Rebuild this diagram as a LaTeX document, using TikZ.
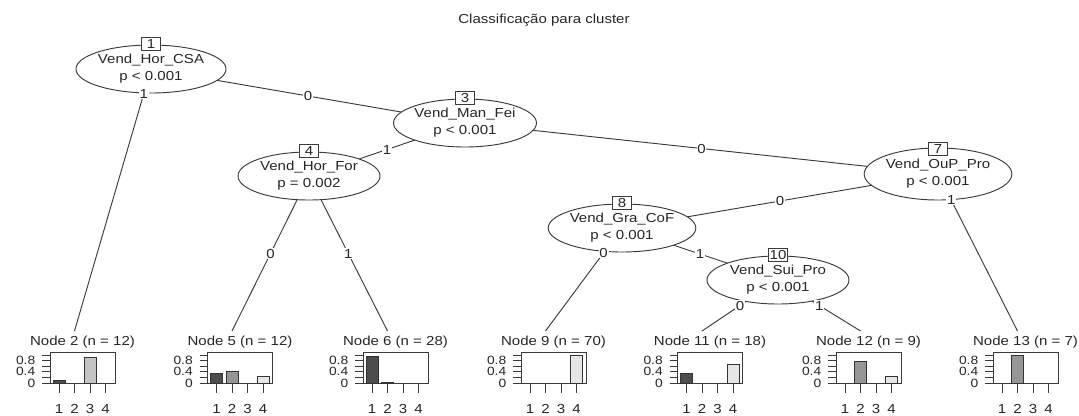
\documentclass[tikz,border=0pt]{standalone}
\usepackage{fontspec}
\setmainfont{Liberation Sans}[FakeStretch=1.15]
\usetikzlibrary{calc,backgrounds,shapes.geometric}
\definecolor{lineclr}{HTML}{3A3A3A}
\definecolor{cA}{HTML}{4D4D4D}
\definecolor{cB}{HTML}{969696}
\definecolor{cC}{HTML}{C3C3C3}
\definecolor{cD}{HTML}{E6E6E6}
\tikzset{
  x=0.75pt, y=-0.75pt,
  txt/.style={font=\fontsize{9.8}{12.75}\selectfont, text=black!85},
  split/.style={ellipse, draw=lineclr, fill=white, line width=0.7pt,
    minimum width=106.5pt, minimum height=36pt, inner sep=0pt,
    align=center, txt},
  idbox/.style={draw=lineclr, fill=white, line width=0.7pt, inner sep=1.2pt,
    minimum width=14pt, minimum height=10pt, txt},
  edge/.style={draw=lineclr, line width=0.7pt},
  elab/.style={fill=white, inner sep=0.6pt, txt},
  ttitle/.style={inner sep=0pt, txt},
  axlab/.style={inner sep=0pt, font=\fontsize{9}{9}\selectfont, text=black!85},
  panel/.style={draw=lineclr, line width=0.7pt},
  bar/.style={draw=black!80, line width=0.7pt},
}
% terminal node: number, size, centre x, class proportions 1..4
\newcommand{\termpanel}[7]{%
  \coordinate (t#1) at (#3-8,331);
  \node[ttitle] (lab#1) at (#3,342) {Node #1 (n = #2)};
  \draw[panel] (#3-32.5,352) rectangle (#3+32.5,383);
  \foreach \p/\c [count=\i] in {#4/cA,#5/cB,#6/cC,#7/cD}{%
    \pgfmathsetmacro{\bx}{#3-23.5+15.5*(\i-1)}
    \ifdim \p pt>0pt
      \draw[bar, fill=\c] (\bx-6,383) rectangle (\bx+6,{383-28*\p});
    \fi
    \draw[panel] (\bx,383) -- (\bx,393);
    \node[axlab, font=\fontsize{9.8}{10}\selectfont] at (\bx,409) {\i};
  }
  \foreach \k in {0,...,5}{\draw[panel] (#3-40.5,{383-5.6*\k}) -- (#3-32.5,{383-5.6*\k});}
  \node[axlab, anchor=east] at (#3-47,383) {0};
  \node[axlab, anchor=east] at (#3-47,371.8) {0.4};
  \node[axlab, anchor=east] at (#3-47,360.6) {0.8};
}
\begin{document}
\begin{tikzpicture}
\useasboundingbox (0,0) rectangle (1079,415);

\node[txt] (title) at (544,20) {Classificação para cluster};

% inner nodes
\node[split] (n1)  at (151,69)  {Vend\_Hor\_CSA\\p < 0.001};
\node[split] (n3)  at (465,123) {Vend\_Man\_Fei\\p < 0.001};
\node[split] (n4)  at (309,176) {Vend\_Hor\_For\\p = 0.002};
\node[split, minimum height=39pt] (n7)  at (938,174) {Vend\_OuP\_Pro\\p < 0.001};
\node[split] (n8)  at (622,228) {Vend\_Gra\_CoF\\p < 0.001};
\node[split] (n10) at (778,280) {Vend\_Sui\_Pro\\p < 0.001};

\foreach \n in {1,3,4,7,8,10}{
  \node[idbox] (id\n) at ($(n\n.center)+(0,-25)$) {\n};
}

% terminal nodes
\termpanel{2}{12}{82.5}{0.0833}{0}{0.9167}{0}
\termpanel{5}{12}{240}{0.3333}{0.4167}{0}{0.25}
\termpanel{6}{28}{395.5}{0.9643}{0.0357}{0}{0}
\termpanel{9}{70}{553.5}{0}{0}{0}{1}
\termpanel{11}{18}{710}{0.3333}{0}{0}{0.6667}
\termpanel{12}{9}{868.5}{0}{0.7778}{0}{0.2222}
\termpanel{13}{7}{1025.5}{0}{1}{0}{0}

% connectors
\begin{scope}[on background layer]
  \draw[edge] (n1.center) -- (t2);
  \draw[edge] (n1.center) -- (n3.center);
  \draw[edge] (n3.center) -- (n4.center);
  \draw[edge] (n3.center) -- (n7.center);
  \draw[edge] (n4.center) -- (t5);
  \draw[edge] (n4.center) -- (t6);
  \draw[edge] (n7.center) -- (n8.center);
  \draw[edge] (n7.center) -- (t13);
  \draw[edge] (n8.center) -- (t9);
  \draw[edge] (n8.center) -- (n10.center);
  \draw[edge] (n10.center) -- (t11);
  \draw[edge] (n10.center) -- (t12);
\end{scope}

% connector labels
\node[elab] at ($(n1.center)!0.095!(t2)$) {1};
\node[elab] at ($(n1.center)!0.5!(n3.center)$) {0};
\node[elab] at ($(n3.center)!0.5!(n4.center)$) {1};
\node[elab] at ($(n3.center)!0.5!(n7.center)$) {0};
\node[elab] at ($(n4.center)!0.5!(t5)$) {0};
\node[elab] at ($(n4.center)!0.5!(t6)$) {1};
\node[elab] at ($(n7.center)!0.5!(n8.center)$) {0};
\node[elab] at ($(n7.center)!0.166!(t13)$) {1};
\node[elab] at ($(n8.center)!0.24!(t9)$) {0};
\node[elab] at ($(n8.center)!0.5!(n10.center)$) {1};
\node[elab] at ($(n10.center)!0.5!(t11)$) {0};
\node[elab] at ($(n10.center)!0.5!(t12)$) {1};
\end{tikzpicture}
\end{document}
